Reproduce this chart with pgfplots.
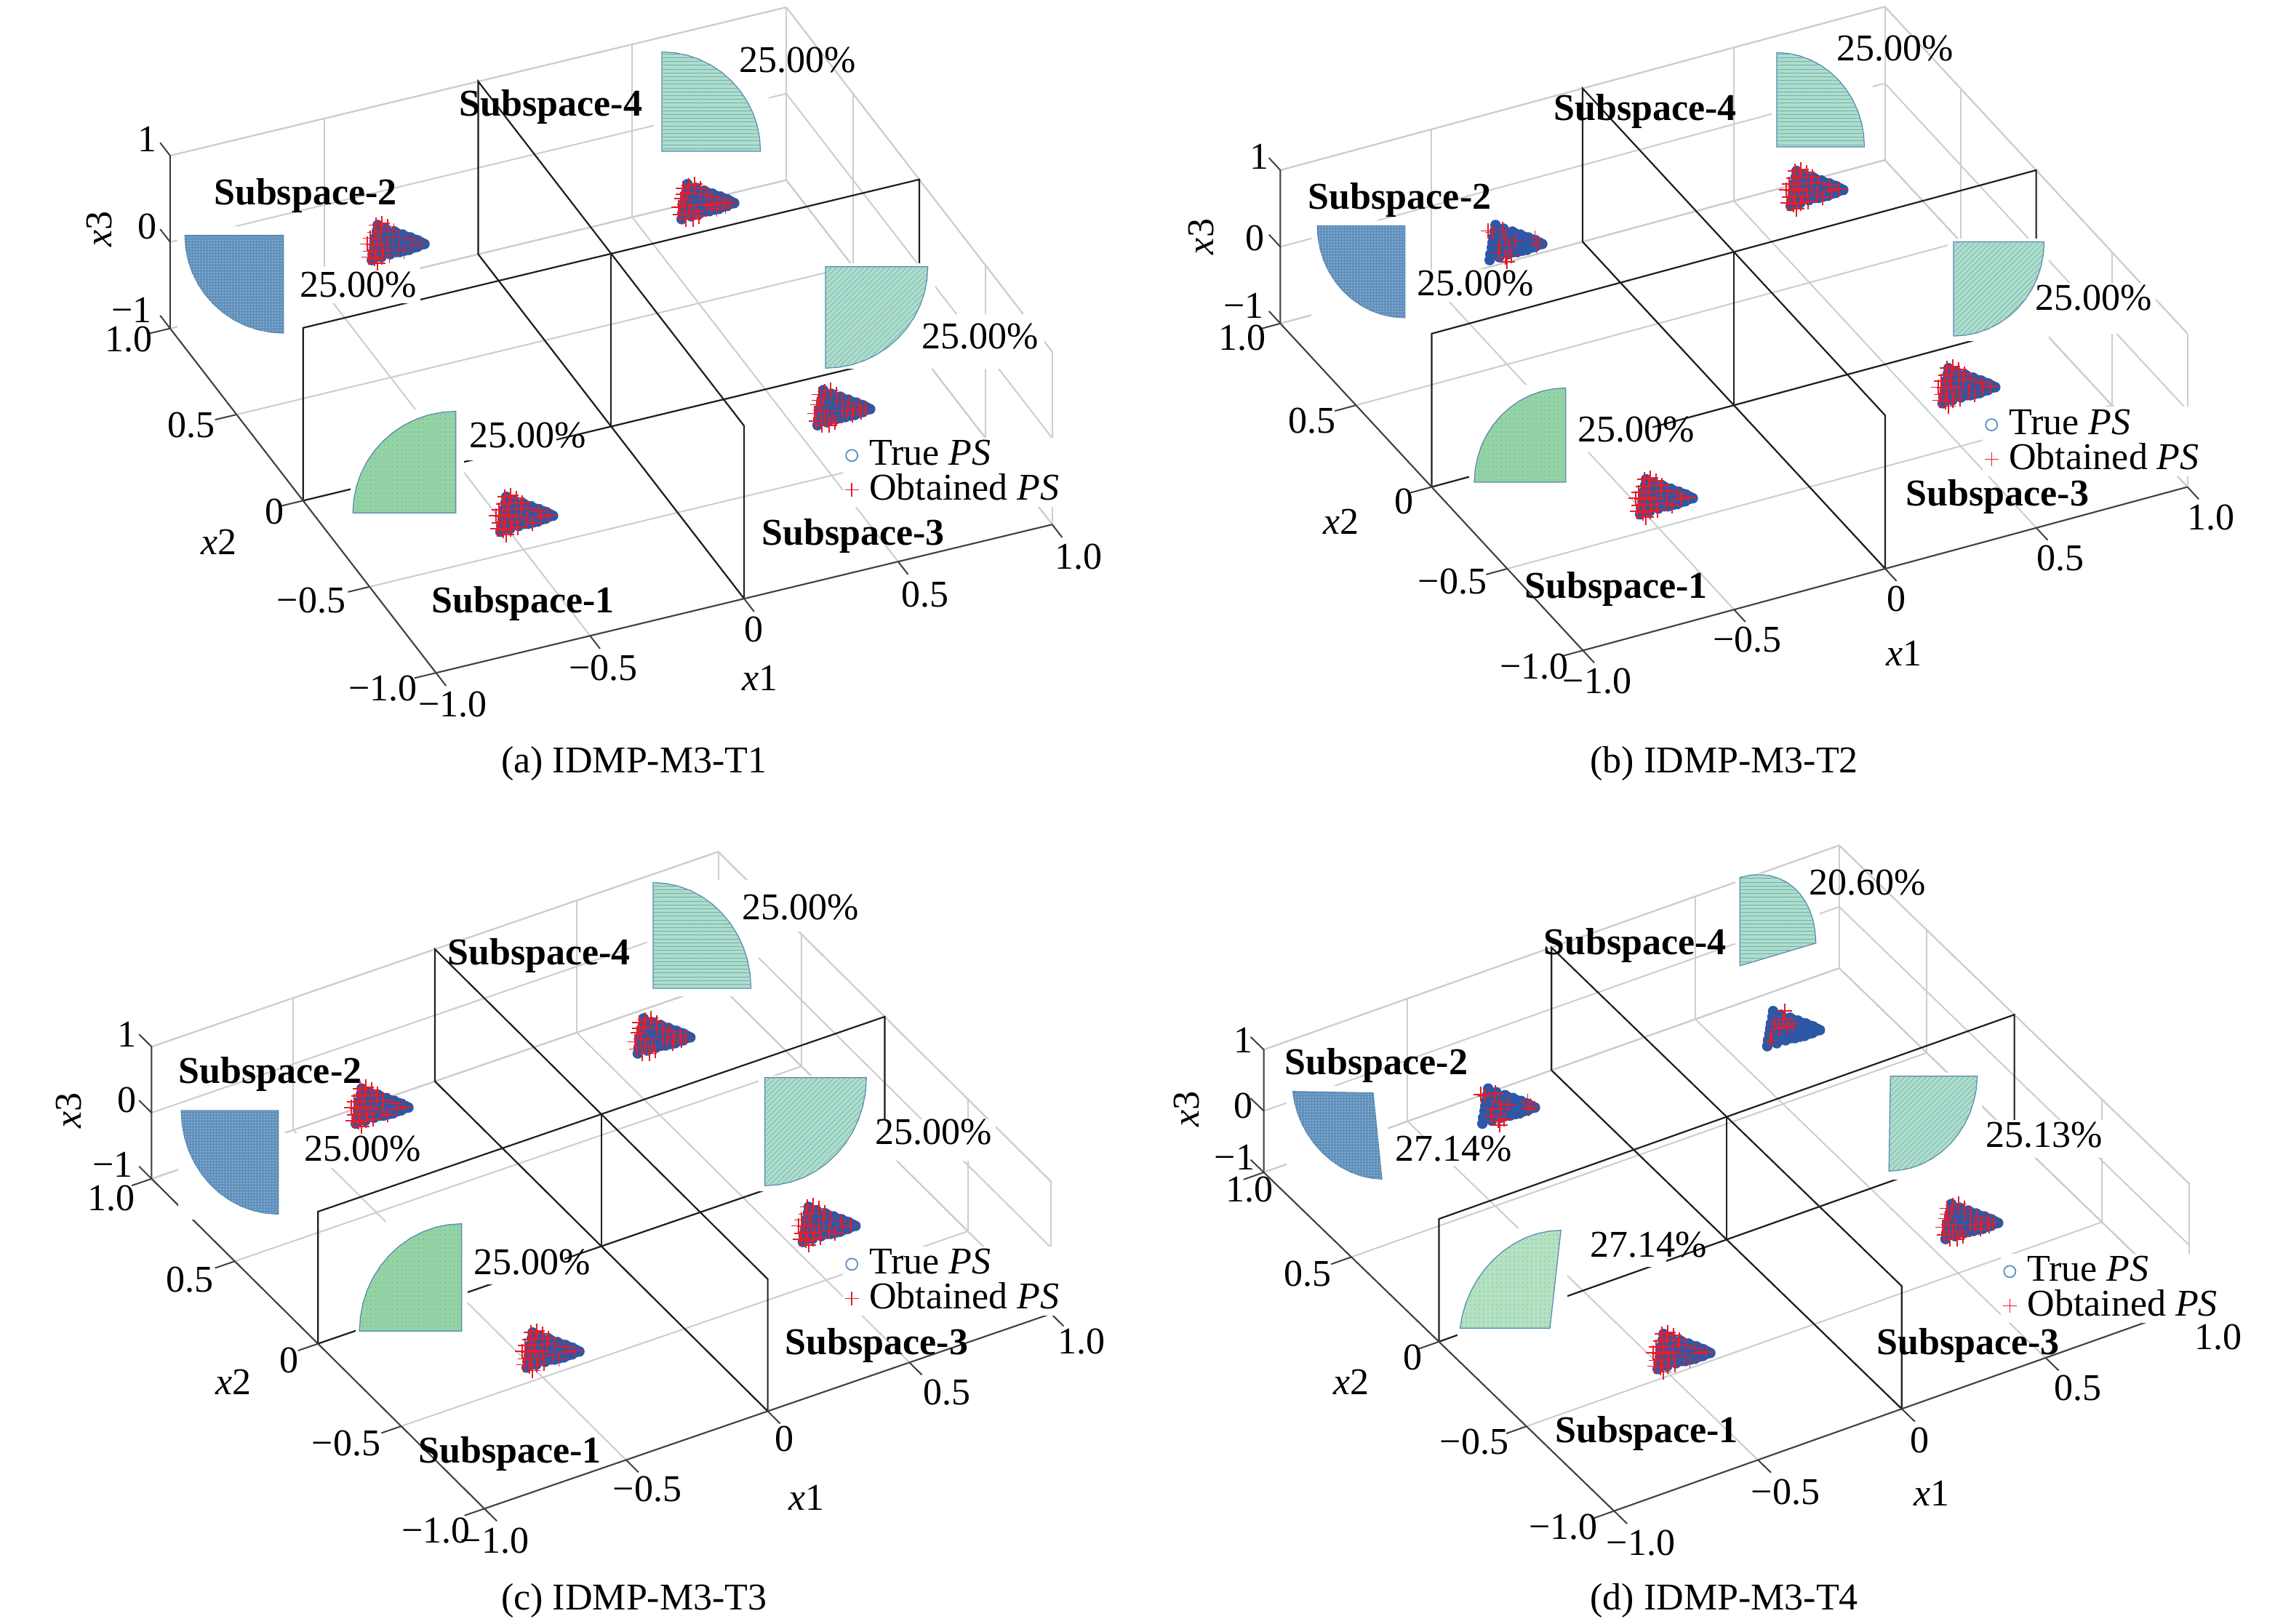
\documentclass[border=0pt]{standalone}
\usepackage{fontspec}
\setmainfont{Liberation Serif}
\usepackage{pgfplots}
\usepackage{pgfplotstable}
\usetikzlibrary{patterns.meta}
\pgfplotsset{compat=1.18}
\newcommand{\fs}{\fontsize{13}{13}\selectfont}
\definecolor{gridgray}{RGB}{205,205,205}
\definecolor{psblue}{RGB}{44,88,166}
\definecolor{psred}{RGB}{232,28,40}
\definecolor{ringblue}{RGB}{90,145,195}
\definecolor{pieedge}{RGB}{85,135,175}
\definecolor{blueF}{RGB}{98,145,190}
\definecolor{greenF}{RGB}{148,212,164}
\definecolor{tealF}{RGB}{172,222,202}
\definecolor{paleF}{RGB}{178,226,192}
\pgfplotstableread{
c s
0 0
1 0
0.991 0.131
0.966 0.259
0.924 0.383
0.866 0.5
0.793 0.609
0.707 0.707
0.609 0.793
0.5 0.866
0.383 0.924
0.259 0.966
0.131 0.991
0 1
}\arcpts
\pgfplotstableread{
c s
0 0
1 0
1 1
0 1
}\sqpts
\pgfplotstableread{
u v
-20 -24
-21 -16
-23 -7
-24 0
-25 7
-27 16
-28 24
-9 -19
-10 -11
-12 -4
-13 4
-14 11
-15 20
3 -15
1 -7
0 1
-1 8
-3 16
14 -11
13 -3
11 5
10 13
25 -7
24 1
23 10
35 -3
34 6
44 2
40 0
39 3
31 -4
30 3
29 7
19 -8
18 0
17 11
6 -13
5 13
}\truePS
\pgfplotstableread{
u v
-22 -24
-14 -26
-6 -22
-24 -14
-16 -15
2 -16
-30 -6
-20 -6
0 -8
10 -8
-34 2
-26 3
-16 1
-6 3
24 -4
-30 12
-22 11
-12 11
8 8
28 3
38 1
-32 20
-24 22
-14 20
-4 18
16 12
-20 28
}\obsA
\pgfplotstableread{
u v
-18 -22
-10 -24
-26 -18
-2 -18
-20 -12
-2 -10
-28 -4
6 -10
16 -6
-24 4
-14 5
6 4
-32 8
-18 14
-8 14
12 6
22 2
30 -2
38 2
-30 18
-22 24
-12 24
-4 20
20 10
32 6
-26 -10
}\obsB
\pgfplotstableread{
u v
-24 -14
-10 -18
-6 -6
-14 4
-2 4
8 -2
-16 14
-6 20
2 18
-4 26
34 -6
36 4
38 0
-30 -16
}\obsC
\pgfplotstableread{
u v
-18 -6
-6 -12
-12 0
0 -2
6 -6
-22 10
-24 16
-4 -24
}\obsD
\tikzset{
 patBlue/.style={pattern={Dots[distance=0.9pt,radius=0.2pt]},pattern color={rgb,255:red,195;green,218;blue,228}},
 patDots/.style={pattern={Dots[distance=1.5pt,radius=0.17pt]},pattern color=pieedge},
 patLineD/.style={pattern={Lines[angle=45,distance=1.3pt,line width=0.16pt]},pattern color=pieedge!60!tealF},
 patLineH/.style={pattern={Lines[angle=0,distance=1.3pt,line width=0.13pt]},pattern color=pieedge!60!tealF}
}
\pgfplotsset{
 box3d/.style={anchor=origin,clip=false,
  xmin=-1,xmax=1,ymin=-1,ymax=1,zmin=-1,zmax=1,
  xtick={-1,-0.5,0,0.5,1},ytick={-1,-0.5,0,0.5,1},ztick={-1,0,1},
  xticklabels={},yticklabels={},zticklabels={},
  grid=major,major grid style={color=gridgray,line width=0.5pt},
  axis line style={color=gridgray,line width=0.5pt},
  tick style={draw=none},major tick length=0pt},
 page/.style={at={(0,0)},anchor=south west,width=787.5pt,height=558pt,scale only axis,
  xmin=0,xmax=3135.9,ymin=0,ymax=2222,y dir=reverse,hide axis,clip=false,
  legend cell align=left,
  legend image code/.code={\path (0cm,0cm) (0.27cm,0cm);\draw[mark repeat=2,mark phase=2,##1] plot coordinates {(0cm,0.12cm)(0.1cm,0.12cm)(0.2cm,0.12cm)};},
  legend style={draw=none,fill=white,font=\fs,anchor=north west,inner sep=0pt,
   nodes={inner sep=1pt,anchor=base west},row sep=-0.7pt,
   /tikz/every even column/.append style={column sep=1pt}}},
 blk/.style={color=black!88,line width=0.55pt,forget plot},
 dark/.style={color=black!75,line width=0.5pt,forget plot}
}
\newcommand{\planes}{%
 \addplot3[blk] coordinates {(-1,0,-1)(-1,0,1)(1,0,1)(1,0,-1)(-1,0,-1)};
 \addplot3[blk] coordinates {(0,-1,-1)(0,-1,1)(0,1,1)(0,1,-1)(0,-1,-1)};
 \addplot3[blk] coordinates {(0,0,-1)(0,0,1)};
 \addplot3[dark] coordinates {(1,-1,-1)(-1,-1,-1)(-1,1,-1)(-1,1,1)};
 \addplot3[dark,unbounded coords=jump] coordinates {
  (-1,-1,-1)(-1,-1.075,-1)(nan,nan,nan)
  (-0.5,-1,-1)(-0.5,-1.075,-1)(nan,nan,nan)
  (0,-1,-1)(0,-1.075,-1)(nan,nan,nan)
  (0.5,-1,-1)(0.5,-1.075,-1)(nan,nan,nan)
  (1,-1,-1)(1,-1.075,-1)(nan,nan,nan)
  (-1,-1,-1)(-1.07,-1,-1)(nan,nan,nan)
  (-1,-0.5,-1)(-1.07,-0.5,-1)(nan,nan,nan)
  (-1,0,-1)(-1.07,0,-1)(nan,nan,nan)
  (-1,0.5,-1)(-1.07,0.5,-1)(nan,nan,nan)
  (-1,1,-1)(-1.07,1,-1)(nan,nan,nan)
  (-1,1,-1)(-1,1.075,-1)(nan,nan,nan)
  (-1,1,0)(-1,1.075,0)(nan,nan,nan)
  (-1,1,1)(-1,1.075,1)
 };
}
\def\pdx{0}\def\pdy{0}
% centre, two radius vectors (pixels), fill colour, pattern style
\newcommand{\pie}[8]{%
 \addplot[draw=pieedge,line width=0.3pt,fill=#7,forget plot] table[x expr={#1+\pdx+(#3)*\thisrow{c}+(#5)*\thisrow{s}},y expr={#2+\pdy+(#4)*\thisrow{c}+(#6)*\thisrow{s}}]{\arcpts} -- cycle;
 \addplot[draw=none,#8,forget plot] table[x expr={#1+\pdx+(#3)*\thisrow{c}+(#5)*\thisrow{s}},y expr={#2+\pdy+(#4)*\thisrow{c}+(#6)*\thisrow{s}}]{\arcpts} -- cycle;
}
\newcommand{\hole}[4]{\addplot[draw=none,fill=white,forget plot] table[x expr={#1+\pdx+(#3-#1)*\thisrow{c}},y expr={#2+\pdy+(#4-#2)*\thisrow{s}}]{\sqpts} -- cycle;}
\newcommand{\cluster}[3]{%
 \addplot[only marks,mark=*,mark size=1.6pt,color=psblue,forget plot] table[x expr=\thisrow{u}+#1-3,y expr=\thisrow{v}+#2]{\truePS};
 \addplot[only marks,mark=+,mark size=2.6pt,color=psred,mark options={line width=0.45pt},forget plot] table[x expr=\thisrow{u}+#1-3,y expr=\thisrow{v}+#2]{#3};
}
\newcommand{\lab}[3]{\node[font=\fs,inner sep=0pt] at (axis cs:#1,#2) {#3};}
\newcommand{\slab}[3]{\node[font=\fs,inner sep=0pt,yshift=-1pt] at (axis cs:#1,#2) {\textbf{#3}};}
\newcommand{\rlab}[3]{\node[font=\fs,inner sep=0pt,rotate=90] at (axis cs:#1,#2) {#3};}
\newcommand{\legimgs}{%
 \addlegendimage{only marks,mark=o,mark size=2pt,color=ringblue,mark options={line width=0.45pt}}
 \addlegendentry{True \textit{PS}}
 \addlegendimage{only marks,mark=+,mark size=2.4pt,color=psred,mark options={line width=0.35pt}}
 \addlegendentry{Obtained \textit{PS}}
}
\begin{document}
\begin{tikzpicture}
\path[use as bounding box] (0,0) rectangle (787.5pt,558pt);
% ---------- (a)
\begin{axis}[box3d,at={(210.08pt,441.1pt)},x={(105.9pt,25.5pt)},y={(-45.7pt,59.2pt)},z={(0pt,29.7pt)}]
\planes
\end{axis}
\def\pdx{0}\def\pdy{0}
\begin{axis}[page,legend style={at={(axis cs:1153,598)}}]
\hole{243}{310}{398}{462}\hole{398}{365}{575}{415}
\hole{895}{60}{1052}{215}
\hole{1130}{360}{1280}{505}\hole{1255}{430}{1430}{505}
\hole{480}{560}{635}{712}\hole{635}{565}{762}{630}
\pie{388}{322}{-135}{0}{0}{134}{blueF}{patBlue}
\pie{906}{207}{0}{-136}{135}{0}{tealF}{patLineH}
\pie{1130}{365}{140}{0}{0}{139}{tealF}{patLineD}
\pie{624}{702}{0}{-139}{-141}{0}{greenF}{patDots}
\cluster{540}{332}{\obsA}\cluster{964}{276}{\obsB}\cluster{1150}{558}{\obsB}\cluster{716}{704}{\obsA}
\legimgs
\lab{490}{390}{25.00\%}\lab{1092}{82}{25.00\%}\lab{1342}{460}{25.00\%}\lab{722}{596}{25.00\%}
\slab{418}{264}{Subspace-2}\slab{754}{142}{Subspace-4}\slab{1168}{730}{Subspace-3}\slab{716}{822}{Subspace-1}
\lab{202}{190}{1}\lab{202}{310}{0}\lab{180}{424}{−1}\lab{176}{464}{1.0}\lab{262}{582}{0.5}\lab{376}{700}{0}\lab{426}{822}{−0.5}\lab{524}{942}{−1.0}
\lab{620}{964}{−1.0}\lab{826}{914}{−0.5}\lab{1032}{862}{0}\lab{1266}{814}{0.5}\lab{1476}{762}{1.0}
\lab{300}{742}{\textit{x}2}\lab{1040}{928}{\textit{x}1}\rlab{136}{314}{\textit{x}3}
\lab{868}{1045}{(a) IDMP-M3-T1}
\end{axis}
% ---------- (b)
\begin{axis}[box3d,at={(596pt,445.05pt)},x={(103.9pt,28.1pt)},y={(-52pt,56.2pt)},z={(0pt,26.35pt)}]
\planes
\end{axis}
\def\pdx{-7}\def\pdy{0}
\begin{axis}[page,legend style={at={(axis cs:2713,556)}}]
\hole{1802}{302}{1940}{438}\hole{1940}{368}{2112}{413}
\hole{2432}{67}{2570}{206}
\hole{2673}{327}{2811}{467}\hole{2791}{387}{2958}{457}
\hole{2018}{527}{2156}{663}\hole{2151}{527}{2269}{619}
\pie{1930}{309}{-120}{0}{0}{126}{blueF}{patBlue}
\pie{2439}{201}{0}{-129}{120}{0}{tealF}{patLineH}
\pie{2681}{331}{124}{0}{0}{129}{tealF}{patLineD}
\pie{2150}{660}{0}{-129}{-125}{0}{greenF}{patDots}
\cluster{2070}{332}{\obsC}\cluster{2482}{258}{\obsA}\cluster{2690}{528}{\obsA}\cluster{2276}{680}{\obsA}
\legimgs
\lab{2020}{388}{25.00\%}\lab{2594}{66}{25.00\%}\lab{2866}{408}{25.00\%}\lab{2240}{588}{25.00\%}
\slab{1916}{270}{Subspace-2}\slab{2252}{148}{Subspace-4}\slab{2734}{676}{Subspace-3}\slab{2212}{802}{Subspace-1}
\lab{1724}{214}{1}\lab{1718}{326}{0}\lab{1702}{418}{−1}\lab{1700}{462}{1.0}\lab{1796}{576}{0.5}\lab{1922}{686}{0}\lab{1988}{796}{−0.5}\lab{2100}{912}{−1.0}
\lab{2186}{932}{−1.0}\lab{2392}{876}{−0.5}\lab{2596}{820}{0}\lab{2820}{764}{0.5}\lab{3026}{708}{1.0}
\lab{1836}{714}{\textit{x}2}\lab{2606}{894}{\textit{x}1}\rlab{1644}{324}{\textit{x}3}
\lab{2360}{1045}{(b) IDMP-M3-T2}
\end{axis}
% ---------- (c)
\begin{axis}[box3d,at={(206.7pt,152.3pt)},x={(97.4pt,33.5pt)},y={(-57.2pt,56.7pt)},z={(0pt,22.7pt)}]
\planes
\end{axis}
\def\pdx{0}\def\pdy{-5}
\begin{axis}[page,legend style={at={(axis cs:1153,1705)}}]
\hole{244}{1521}{389}{1674}\hole{389}{1556}{581}{1604}
\hole{886}{1210}{1038}{1369}\hole{1038}{1225}{1182}{1280}
\hole{1038}{1477}{1196}{1636}\hole{1196}{1537}{1363}{1594}
\hole{487}{1677}{640}{1831}\hole{630}{1712}{773}{1763}
\pie{381}{1525}{-133}{0}{0}{142}{blueF}{patBlue}
\pie{894}{1358}{0}{-145}{134}{0}{tealF}{patLineH}
\pie{1047}{1480}{139}{0}{0}{148}{tealF}{patLineD}
\pie{632}{1827}{0}{-147}{-140}{0}{greenF}{patDots}
\cluster{518}{1514}{\obsA}\cluster{904}{1418}{\obsB}\cluster{1130}{1676}{\obsA}\cluster{752}{1848}{\obsA}
\legimgs
\lab{496}{1572}{25.00\%}\lab{1096}{1242}{25.00\%}\lab{1278}{1550}{25.00\%}\lab{728}{1728}{25.00\%}
\slab{370}{1466}{Subspace-2}\slab{738}{1304}{Subspace-4}\slab{1200}{1838}{Subspace-3}\slab{698}{1986}{Subspace-1}
\lab{174}{1416}{1}\lab{174}{1506}{0}\lab{154}{1594}{−1}\lab{152}{1640}{1.0}\lab{260}{1752}{0.5}\lab{396}{1862}{0}\lab{474}{1976}{−0.5}\lab{597}{2095}{−1.0}
\lab{677}{2109}{−1.0}\lab{886}{2038}{−0.5}\lab{1074}{1970}{0}\lab{1296}{1906}{0.5}\lab{1480}{1836}{1.0}
\lab{320}{1892}{\textit{x}2}\lab{1104}{2050}{\textit{x}1}\rlab{94}{1520}{\textit{x}3}
\lab{868}{2191}{(c) IDMP-M3-T3}
\end{axis}
% ---------- (d)
\begin{axis}[box3d,at={(593.5pt,153pt)},x={(98.9pt,35.1pt)},y={(-60.2pt,58.2pt)},z={(0pt,21.1pt)}]
\planes
\end{axis}
\def\pdx{-8.5}\def\pdy{-5}
\begin{axis}[page,legend style={at={(axis cs:2738,1715)}}]
\hole{1770}{1491}{1908}{1627}\hole{1908}{1560}{2087}{1601}
\hole{2384}{1201}{2499}{1332}
\hole{2590}{1473}{2721}{1620}\hole{2721}{1538}{2888}{1590}
\hole{2003}{1686}{2154}{1837}\hole{2154}{1689}{2289}{1739}
\pie{1888}{1501}{-110}{-2}{12}{118}{blueF}{patBlue}
\pie{2390}{1327}{0}{-121}{104}{-31}{tealF}{patLineH}
\pie{2596}{1478}{119}{0}{-2}{130}{tealF}{patLineD}
\pie{2130}{1823}{-123}{0}{15}{-134}{paleF}{patDots}
\cluster{2060}{1514}{\obsC}\cluster{2450}{1408}{\obsD}\cluster{2694}{1672}{\obsB}\cluster{2300}{1850}{\obsA}
\legimgs
\lab{1990}{1572}{27.14\%}\lab{2556}{1208}{20.60\%}\lab{2798}{1554}{25.13\%}\lab{2256}{1704}{27.14\%}
\slab{1884}{1454}{Subspace-2}\slab{2238}{1290}{Subspace-4}\slab{2694}{1838}{Subspace-3}\slab{2254}{1958}{Subspace-1}
\lab{1702}{1424}{1}\lab{1702}{1514}{0}\lab{1690}{1584}{−1}\lab{1710}{1628}{1.0}\lab{1790}{1744}{0.5}\lab{1934}{1858}{0}\lab{2018}{1974}{−0.5}\lab{2140}{2090}{−1.0}
\lab{2246}{2112}{−1.0}\lab{2444}{2042}{−0.5}\lab{2628}{1972}{0}\lab{2844}{1900}{0.5}\lab{3036}{1830}{1.0}
\lab{1850}{1892}{\textit{x}2}\lab{2644}{2044}{\textit{x}1}\rlab{1624}{1518}{\textit{x}3}
\lab{2360}{2191}{(d) IDMP-M3-T4}
\end{axis}
\end{tikzpicture}
\end{document}
